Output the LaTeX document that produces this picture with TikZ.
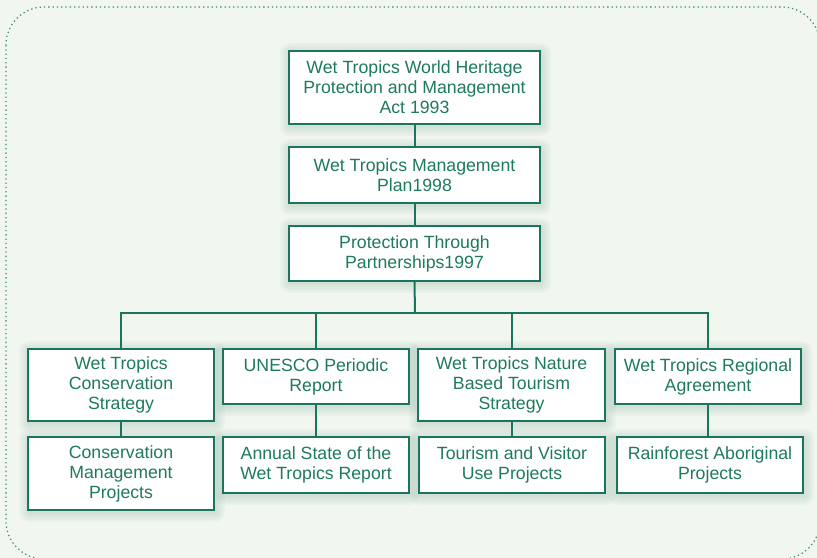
\documentclass[tikz,border=0pt]{standalone}
\usepackage{fontspec}
\setmainfont{Liberation Sans}

\definecolor{pagebg}{RGB}{241,246,239}
\definecolor{teal}{RGB}{27,117,94}
\definecolor{tealtext}{RGB}{30,122,94}
\definecolor{dotline}{RGB}{55,140,112}
\definecolor{glow}{RGB}{90,150,125}

\tikzset{
  x=1bp, y=-1bp,
  orgbox/.style={draw=teal, line width=1.3bp, fill=white, inner sep=0pt,
    text=tealtext, align=center, font=\fontsize{17.7bp}{20bp}\selectfont},
  halo/.style={fill=glow, fill opacity=0.045},
  link/.style={draw=teal, line width=2bp},
}

\newcommand{\orgnode}[6]{%
  % name, left, top, right, bottom, text
  \foreach \g in {2,4,6,8,10}{%
    \fill[halo, rounded corners={\g*1bp}]
      ({#2-\g+1},{#3-\g+2}) rectangle ({#4+\g+1},{#5+\g+2});}
  \node[orgbox, minimum width={(#4-#2)*1bp}, minimum height={(#5-#3)*1bp}]
    (#1) at ({(#2+#4)/2},{(#3+#5)/2}) {#6};}

\begin{document}
\begin{tikzpicture}
  \useasboundingbox (0,0) rectangle (817,558);
  \clip (0,0) rectangle (817,558);
  \fill[pagebg] (0,0) rectangle (817,558);
  % dotted outer frame
  \draw[dotline, line width=1.2bp, dash pattern=on 1.3bp off 3bp,
        rounded corners=38bp] (6,7) rectangle (820,559);

  % upper chain
  \orgnode{act}{289}{51}{540}{124}{Wet Tropics World Heritage\\Protection and Management\\Act 1993}
  \orgnode{plan}{289}{147}{540}{203}{Wet Tropics Management\\Plan1998}
  \orgnode{ptp}{289}{226}{540}{281}{Protection Through\\Partnerships1997}

  % second row
  \orgnode{cons}{28}{349}{214}{421}{Wet Tropics\\Conservation\\Strategy}
  \orgnode{unesco}{223}{349}{409}{404}{UNESCO Periodic\\Report}
  \orgnode{nature}{418}{349}{605}{421}{Wet Tropics Nature\\Based Tourism\\Strategy}
  \orgnode{regional}{615}{349}{801}{404}{Wet Tropics Regional\\Agreement}

  % third row
  \orgnode{consproj}{28}{437}{214}{510}{Conservation\\Management\\Projects}
  \orgnode{annual}{223}{437}{409}{493}{Annual State of the\\Wet Tropics Report}
  \orgnode{tourism}{419}{437}{605}{493}{Tourism and Visitor\\Use Projects}
  \orgnode{aboriginal}{617}{437}{803}{493}{Rainforest Aboriginal\\Projects}

  \coordinate (bus) at (415,313);

  % connectors
  \draw[link] (act.south) -- (plan.north);
  \draw[link] (plan.south) -- (ptp.north);
  \draw[link] (ptp.south) -- (bus);
  \draw[link] (cons.north) -- (cons.north |- bus) -- (regional.north |- bus) -- (regional.north);
  \draw[link] (unesco.north) -- (unesco.north |- bus);
  \draw[link] (nature.north) -- (nature.north |- bus);
  \draw[link] (cons.south) -- (cons.south |- consproj.north);
  \draw[link] (unesco.south) -- (unesco.south |- annual.north);
  \draw[link] (nature.south) -- (nature.south |- tourism.north);
  \draw[link] (regional.south) -- (regional.south |- aboriginal.north);
\end{tikzpicture}
\end{document}
